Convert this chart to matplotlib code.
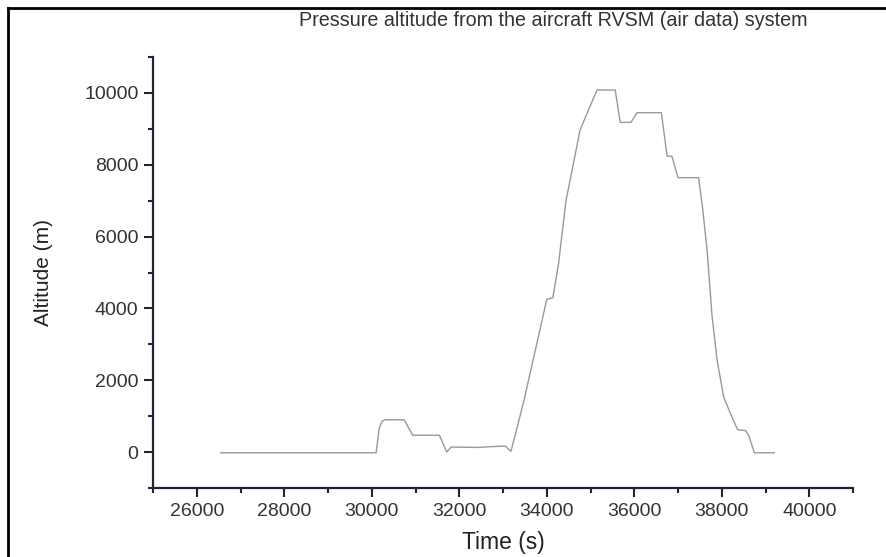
import numpy as np
import matplotlib.pyplot as plt
from matplotlib.ticker import MultipleLocator
from matplotlib.lines import Line2D

plt.rcParams["font.family"] = ["Liberation Sans", "DejaVu Sans"]

# time (s) and pressure altitude (m)
time_s = [26550, 30100, 30170, 30230, 30300, 30740, 30935, 31545, 31713, 31812,
          32400, 33050, 33180, 33280, 33480, 34000, 34140, 34270, 34440, 34760,
          34920, 35150, 35565, 35680, 35925, 36060, 36620, 36750, 36860, 37000,
          37470, 37560, 37665, 37780, 37895, 38045, 38200, 38365, 38540, 38615,
          38745, 39200]
altitude_m = [-20, -20, 660, 850, 900, 900, 470, 470, 0, 140,
              130, 170, 20, 480, 1440, 4250, 4300, 5250, 7000, 8960,
              9430, 10080, 10080, 9180, 9180, 9450, 9450, 8240, 8240, 7640,
              7640, 6820, 5620, 3760, 2550, 1530, 1070, 620, 600, 470,
              -20, -20]

x_ticks = [26000, 28000, 30000, 32000, 34000, 36000, 38000, 40000]
y_ticks = [0, 2000, 4000, 6000, 8000, 10000]

fig = plt.figure(figsize=(8.86, 5.57), dpi=100)
ax = fig.add_axes([153 / 886, 1 - 488 / 557, 700 / 886, 431 / 557])

ax.plot(time_s, altitude_m, color="#999999", linewidth=1.0)

ax.set_xlim(25000, 41000)
ax.set_ylim(-1000, 11000)
ax.set_xticks(x_ticks)
ax.set_yticks(y_ticks)
ax.xaxis.set_minor_locator(MultipleLocator(1000))
ax.yaxis.set_minor_locator(MultipleLocator(1000))

for side in ["top", "right"]:
    ax.spines[side].set_visible(False)
for side in ["left", "bottom"]:
    ax.spines[side].set_linewidth(1.6)
    ax.spines[side].set_color("#222233")

ax.tick_params(which="major", direction="out", length=6.5, width=1.5,
               color="#222233", labelsize=14, labelcolor="#333333", pad=4)
ax.tick_params(which="minor", direction="out", length=3.5, width=1.5,
               color="#222233")

ax.set_xlabel("Time (s)", fontsize=16.5, color="#222222", labelpad=8)
ax.set_ylabel("Altitude (m)", fontsize=15, color="#222222", labelpad=22)

fig.text(553 / 886, 1 - 20 / 557, "Pressure altitude from the aircraft RVSM (air data) system",
         ha="center", va="center", fontsize=14.2, color="#333333")

# the frame round the image (top and left edges only)
fig.add_artist(Line2D([8 / 886, 1], [1 - 8 / 557, 1 - 8 / 557], color="black",
                      linewidth=2, transform=fig.transFigure))
fig.add_artist(Line2D([8 / 886, 8 / 886], [0, 1 - 8 / 557], color="black",
                      linewidth=2, transform=fig.transFigure))

fig.savefig("out.png", dpi=100)
